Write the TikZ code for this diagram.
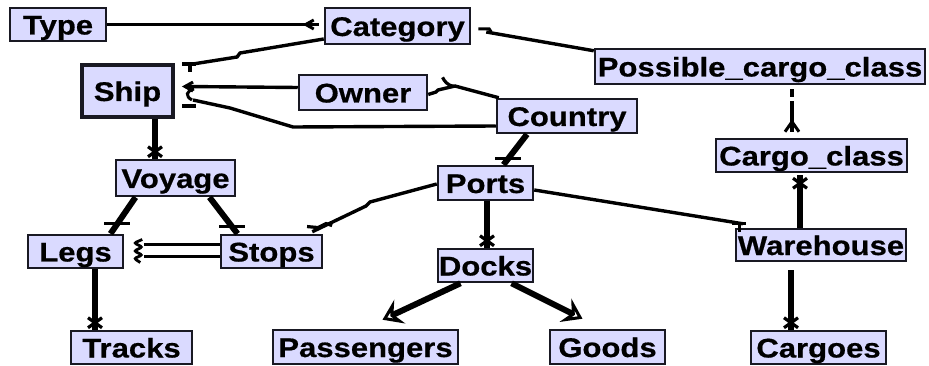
\documentclass[tikz,border=0pt]{standalone}
\usepackage{fontspec}
\newfontfamily\lblfont{Liberation Sans Bold}[FakeStretch=1.15,FakeBold=0.6]
\usetikzlibrary{arrows.meta,decorations.markings,calc}
\definecolor{boxfill}{RGB}{218,218,255}
\definecolor{boxline}{RGB}{25,25,35}
\tikzset{
  ent/.style={draw=boxline,fill=boxfill,line width=2.5pt,inner sep=0pt,
    text height=21pt,text depth=1pt,
    font={\fontsize{27}{28}\selectfont\lblfont}},
  lnA/.style={draw=black,line width=3.4pt},
  lnB/.style={draw=black,line width=6pt},
  xmark/.style={postaction={decorate,decoration={markings,mark=at position #1 with
    {\draw[line width=3.2pt] (-5pt,-7pt)--(5pt,7pt) (-5pt,7pt)--(5pt,-7pt);}}}},
  hbar/.style={postaction={decorate,decoration={markings,mark=at position #1 with
    {\pgftransformresetnontranslations\draw[line width=3.2pt] (-13pt,0)--(13pt,0);}}}},
  chev/.style={postaction={decorate,decoration={markings,mark=at position #1 with
    {\draw[line width=3pt] (8pt,-4.5pt)--(0,0)--(8pt,4.5pt);}}}},
  fork/.style={postaction={decorate,decoration={markings,mark=at position #1 with
    {\draw[line width=3pt] (0,0)--(10pt,-7pt) (0,0)--(10pt,7pt);}}}},
  tmark/.style={postaction={decorate,decoration={markings,mark=at position #1 with
    {\pgftransformresetnontranslations\draw[line width=3.2pt] (-11pt,0)--(3pt,0) (-3pt,0)--(-3pt,-8pt);}}}},
  gapmark/.style={postaction={decorate,decoration={markings,mark=at position #1 with
    {\fill[white] (-2pt,-4pt) rectangle (2pt,4pt);}}}},
  curlmark/.style={postaction={decorate,decoration={markings,mark=at position 1 with
    {\pgftransformresetnontranslations\draw[line width=3pt] (1pt,11pt) .. controls (-7pt,9pt) and (-8pt,4pt) .. (-1pt,0pt);
     \draw[line width=3.2pt] (-11pt,-6pt)--(3pt,-6pt);}}}},
  hookmark/.style={postaction={decorate,decoration={markings,mark=at position #1 with
    {\pgftransformresetnontranslations\draw[line width=3.2pt] (0,0) .. controls (-6pt,1pt) and (-9pt,5pt) .. (-11pt,9pt);}}}},
  squig/.style={postaction={decorate,decoration={markings,mark=at position 0 with
    {\pgftransformresetnontranslations\draw[line width=2.8pt,rounded corners=2pt] (-2pt,11pt)--(-10pt,7.5pt)--(-2pt,3.5pt)--(-10pt,-0.5pt)--(-2pt,-4.5pt)--(-10pt,-8pt)--(-4pt,-12pt);}}}},
  tilmark/.style={postaction={decorate,decoration={markings,mark=at position #1 with
    {\pgftransformresetnontranslations\draw[line width=3.2pt] (-16pt,0pt)--(-5pt,-1pt) (-5pt,-1pt)--(3pt,3pt)--(9pt,1pt);}}}},
  notmark/.style={postaction={decorate,decoration={markings,mark=at position 0 with
    {\pgftransformresetnontranslations\draw[line width=3pt] (-8pt,3pt)--(3pt,3pt)--(5pt,0pt);}}}},
  bigtip/.style={-{Stealth[open,length=19pt,width=26pt,inset=7pt,line width=3.4pt]}},
}
\begin{document}
\begin{tikzpicture}[x=1pt,y=-1pt]
\useasboundingbox (0,0) rectangle (929,366);
% entities
\node[ent,minimum width=96pt,minimum height=33pt]  (type)  at (58,24.5)   {Type};
\node[ent,minimum width=145pt,minimum height=36pt] (cat)   at (397.5,26)  {Category};
\node[ent,minimum width=91pt,minimum height=52pt,line width=4pt] (ship) at (127.5,91) {Ship};
\node[ent,minimum width=128pt,minimum height=35pt] (owner) at (363,92.5)  {Owner};
\node[ent,minimum width=330pt,minimum height=35pt] (pcc)   at (760,66.5)  {Possible\_cargo\_class};
\node[ent,minimum width=140pt,minimum height=34pt] (ctry)  at (567,116)   {Country};
\node[ent,minimum width=119pt,minimum height=36pt] (voy)   at (175.5,178) {Voyage};
\node[ent,minimum width=95pt,minimum height=34pt]  (ports) at (485.5,183) {Ports};
\node[ent,minimum width=191pt,minimum height=33pt] (cc)    at (811.5,155.5) {Cargo\_class};
\node[ent,minimum width=95pt,minimum height=33pt]  (legs)  at (75.5,251.5) {Legs};
\node[ent,minimum width=101pt,minimum height=33pt] (stops) at (271.5,251.5) {Stops};
\node[ent,minimum width=95pt,minimum height=33pt]  (docks) at (485.5,265.5) {Docks};
\node[ent,minimum width=170pt,minimum height=32pt] (wh)    at (821,245)   {Warehouse};
\node[ent,minimum width=121pt,minimum height=33pt] (tracks) at (131.5,347.5) {Tracks};
\node[ent,minimum width=185pt,minimum height=34pt] (pass)  at (365.5,347) {Passengers};
\node[ent,minimum width=115pt,minimum height=34pt] (goods) at (607.5,347) {Goods};
\node[ent,minimum width=135pt,minimum height=33pt] (cargoes) at (818.5,347.5) {Cargoes};
% connectors
\draw[lnA,chev=-13pt] (type.east) -- ([xshift=-5pt]cat.west |- type.east);
\draw[lnA,tmark=1] ([yshift=-13pt]cat.west) -- (240,53) -- (237,57) -- ([xshift=18pt,yshift=-1pt]ship.north east);
\draw[lnA,chev=0] ([xshift=10pt,yshift=4.5pt]ship.east) -- ([yshift=5pt]owner.west);
\draw[lnA,curlmark] ([yshift=-10pt]ctry.west) -- (293,127) -- (230,108) -- ([xshift=18pt,yshift=-9pt]ship.east);
\draw[lnA,hookmark=46.8pt] ([xshift=3pt]ctry.north west) -- (455,86) -- (438,90) -- (436,92) -- ([yshift=-2pt]owner.east);
\draw[lnA,notmark] ([xshift=15pt,yshift=-6pt]cat.east) -- ([yshift=-3pt]pcc.north west);
\draw[line width=4.5pt,gapmark=10pt,fork=-10pt] ([xshift=32pt,yshift=-4pt]pcc.south) -- ([xshift=-19.5pt,yshift=6pt]cc.north);
\draw[lnB,xmark=-8pt] ([xshift=-21pt]wh.north) -- ([xshift=-11.5pt,yshift=-2pt]cc.south);
\draw[lnB,xmark=-7pt] ([xshift=-30pt,yshift=-8pt]wh.south) -- ([xshift=-27.5pt]cargoes.north);
\draw[lnB,xmark=-7pt] ([xshift=27.5pt]ship.south) -- ([xshift=-20.5pt]voy.north);
\draw[lnB,hbar=-12pt] ([xshift=-40pt]voy.south) -- ([xshift=35pt]legs.north);
\draw[lnB,hbar=-8.6pt] ([xshift=34pt]voy.south) -- ([xshift=-34pt]stops.north);
\draw[line width=3.2pt,double,double distance=9pt,squig] ([xshift=20pt,yshift=1pt]legs.east) -- ([yshift=1pt]stops.west);
\draw[lnB,xmark=-7pt] ([xshift=19.5pt]legs.south) -- ([xshift=-36.5pt]tracks.north);
\draw[lnA,tilmark=-12pt] ([yshift=-1pt]ports.west) -- (370,202) -- (366,206) -- ([xshift=-11pt,yshift=2pt]stops.north east);
\draw[lnB,hbar=-7.4pt] ([xshift=-40pt]ctry.south) -- ([xshift=18pt]ports.north);
\draw[lnB,xmark=-7pt] ([xshift=1.5pt]ports.south) -- ([xshift=1.5pt]docks.north);
\draw[lnA,tmark=1] ([yshift=-7pt]ports.east) -- ([xshift=8pt,yshift=4pt]wh.north west);
\draw[lnB,bigtip] ([xshift=-25pt]docks.south) -- ([xshift=17pt,yshift=9pt]pass.north);
\draw[lnB,bigtip] ([xshift=26pt]docks.south) -- ([xshift=-25pt,yshift=10pt]goods.north);
\end{tikzpicture}
\end{document}
